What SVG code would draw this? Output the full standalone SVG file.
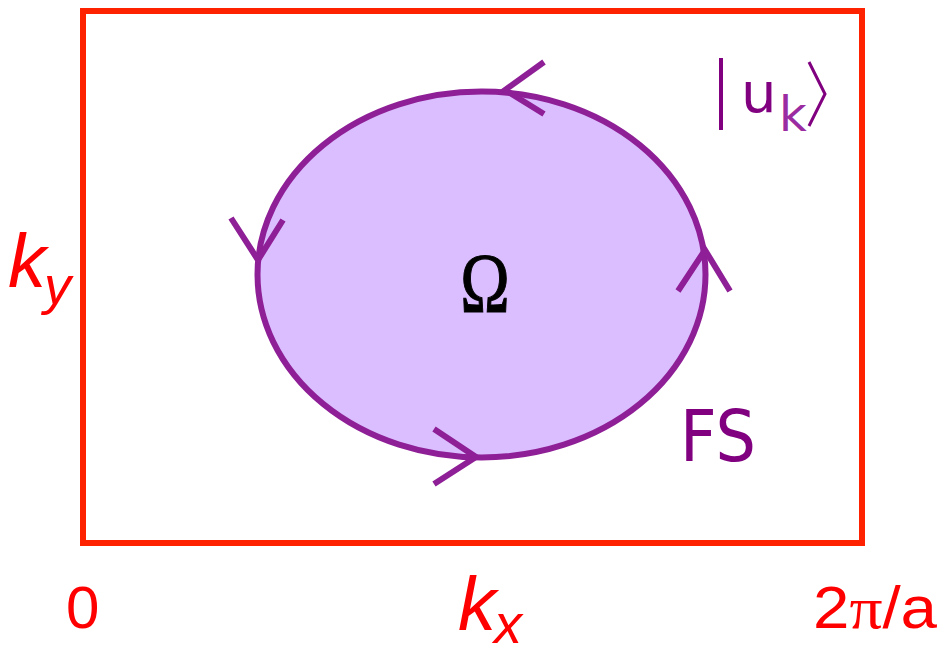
<svg xmlns="http://www.w3.org/2000/svg" width="945" height="653" viewBox="0 0 945 653">
<style>
.red{fill:#FF0000;font-family:"Liberation Sans",Arial,sans-serif}
.it{font-style:italic}
.arr{fill:none;stroke:#8E1F96;stroke-width:6;stroke-linecap:butt;stroke-linejoin:miter}
.pur{fill:#800080;font-family:"DejaVu Sans",Verdana,sans-serif}
</style>
<rect width="945" height="653" fill="#FFFFFF"/>
<g id="zone">
<rect x="83" y="11" width="779" height="532" fill="none" stroke="#FF2200" stroke-width="6"/>
</g>
<g id="fermi-surface">
<ellipse cx="481.5" cy="274.5" rx="224" ry="183" fill="#DBBEFF" stroke="#8E1F96" stroke-width="6"/>
</g>
<g id="connectors">
<polyline class="arr" points="544,62 505,90 544,114"/>
<polyline class="arr" points="231,218 258,260 283,220"/>
<polyline class="arr" points="678,291 705,250 730,291"/>
<polyline class="arr" points="434,429 476,457 434,484"/>
</g>
<g id="labels">
<text transform="translate(485,312) scale(0.9,1.15)" font-family="Liberation Serif,serif" font-size="74" text-anchor="middle" fill="#000" stroke="#000" stroke-width="1">Ω</text>
<text class="pur" x="680" y="461" font-size="72" textLength="76" lengthAdjust="spacingAndGlyphs">FS</text>
<g id="ket">
<line x1="721" y1="58" x2="721" y2="130" stroke="#800080" stroke-width="4"/>
<text class="pur" x="741" y="112" font-size="56">u</text>
<text x="779" y="131" font-family="DejaVu Sans,Verdana,sans-serif" font-size="48" fill="#9B2BA0">k</text>
<polyline points="809,62 825,94 809,126" fill="none" stroke="#800080" stroke-width="3"/>
</g>
<text class="red it" x="8" y="287" font-size="76">k</text>
<text class="red it" x="44" y="304" font-size="54">y</text>
<text class="red" x="66" y="628" font-size="60">0</text>
<text class="red it" x="458" y="630" font-size="76">k</text>
<text class="red it" x="494" y="643" font-size="56">x</text>
<text class="red" x="813" y="628" font-size="60" textLength="124" lengthAdjust="spacingAndGlyphs">2<tspan font-family="Liberation Serif,serif">π</tspan>/a</text>
</g>
</svg>
